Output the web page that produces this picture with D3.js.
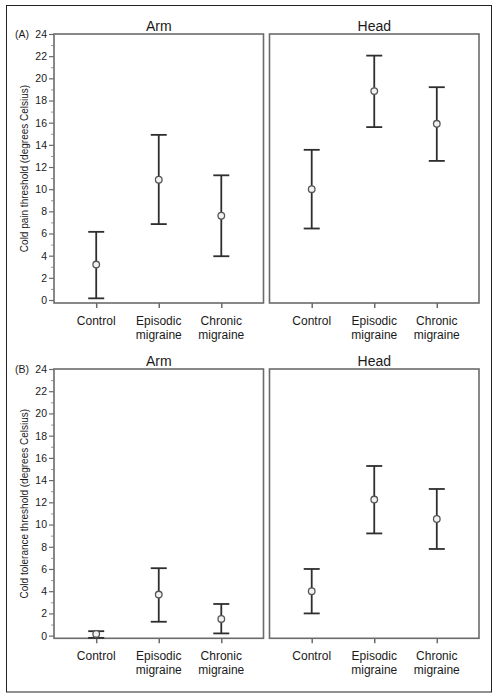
<!DOCTYPE html>
<html><head><meta charset="utf-8">
<script src="https://cdn.jsdelivr.net/npm/d3@7"></script>
<style>body{margin:0;background:#fff}svg{display:block;font-family:"Liberation Sans",Arial,sans-serif}</style>
</head><body>
<script>
const categories = ["Control", "Episodic migraine", "Chronic migraine"];
const categoryLines = [["Control"], ["Episodic", "migraine"], ["Chronic", "migraine"]];
const regions = ["Arm", "Head"];
const yTicks = [0, 2, 4, 6, 8, 10, 12, 14, 16, 18, 20, 22, 24];
const yMinorTicks = [1, 3, 5, 7, 9, 11, 13, 15, 17, 19, 21, 23];

// Panel A: cold pain threshold
const painArmMean  = [3.2, 10.85, 7.6];
const painArmLow   = [0.15, 6.85, 3.95];
const painArmHigh  = [6.15, 14.9, 11.25];
const painHeadMean = [10.0, 18.85, 15.9];
const painHeadLow  = [6.45, 15.6, 12.55];
const painHeadHigh = [13.55, 22.05, 19.2];

// Panel B: cold tolerance threshold
const tolArmMean  = [0.15, 3.7, 1.5];
const tolArmLow   = [-0.2, 1.25, 0.2];
const tolArmHigh  = [0.4, 6.07, 2.85];
const tolHeadMean = [4.0, 12.25, 10.5];
const tolHeadLow  = [2.0, 9.2, 7.8];
const tolHeadHigh = [6.0, 15.27, 13.2];

const W = 499, H = 699;
const svg = d3.select("body").append("svg").attr("width", W).attr("height", H);

svg.append("rect").attr("x", 6.5).attr("y", 5.5).attr("width", 485).attr("height", 686.5)
  .attr("fill", "none").attr("stroke", "#222").attr("stroke-width", 1);

const rows = [
  { label: "(A)", title: "Cold pain threshold (degrees Celsius)", top: 34, bottom: 303, yMin: -0.27,
    data: [[painArmMean, painArmLow, painArmHigh], [painHeadMean, painHeadLow, painHeadHigh]] },
  { label: "(B)", title: "Cold tolerance threshold (degrees Celsius)", top: 369, bottom: 638.3, yMin: -0.24,
    data: [[tolArmMean, tolArmLow, tolArmHigh], [tolHeadMean, tolHeadLow, tolHeadHigh]] }
];
const panelsX = [[54, 263.5], [269.5, 479]];
const ink = "#2e2e2e", frame = "#6b6b6b";

rows.forEach(row => {
  const y = d3.scaleLinear().domain([row.yMin, 24]).range([row.bottom, row.top]);
  regions.forEach((reg, pi) => {
    const [x0, x1] = panelsX[pi];
    const x = d3.scalePoint().domain(categories).range([x0, x1]).padding(0.675);
    const g = svg.append("g");
    // title
    g.append("text").attr("x", (x0 + x1) / 2).attr("y", row.top - 3).attr("text-anchor", "middle")
      .attr("font-size", 14).attr("fill", "#1a1a1a").text(reg);
    // x ticks
    const xa = g.append("g").attr("transform", `translate(0,${row.bottom})`)
      .call(d3.axisBottom(x).tickSize(5).tickFormat(""));
    xa.select(".domain").remove();
    xa.selectAll("line").attr("stroke", frame).attr("stroke-width", 1.5);
    categories.forEach((c, i) => {
      const t = g.append("text").attr("x", x(c)).attr("y", row.bottom + 22).attr("text-anchor", "middle")
        .attr("font-size", 12).attr("fill", "#1a1a1a");
      categoryLines[i].forEach((ln, k) => t.append("tspan").attr("x", x(c)).attr("dy", k ? 14 : 0).text(ln));
    });
    if (pi === 0) {
      const ya = g.append("g").attr("transform", `translate(${x0},0)`)
        .call(d3.axisLeft(y).tickValues(yTicks).tickSize(5).tickPadding(2));
      ya.select(".domain").remove();
      ya.selectAll("line").attr("stroke", frame).attr("stroke-width", 1.2);
      ya.selectAll("text").attr("font-size", 10.5).attr("fill", "#1a1a1a").attr("font-family", "Liberation Sans, Arial, sans-serif");
      const ym = g.append("g").attr("transform", `translate(${x0},0)`)
        .call(d3.axisLeft(y).tickValues(yMinorTicks).tickSize(3).tickFormat(""));
      ym.select(".domain").remove();
      ym.selectAll("line").attr("stroke", "#999").attr("stroke-width", 1);
      g.append("text").attr("x", 15).attr("y", y(24) + 3.8).attr("font-size", 10.5).attr("fill", "#1a1a1a").text(row.label);
      g.append("text").attr("transform", `translate(27.5,${(row.top + row.bottom) / 2}) rotate(-90)`)
        .attr("text-anchor", "middle").attr("font-size", 10).attr("fill", "#1a1a1a").text(row.title);
    }
    // frame
    g.append("rect").attr("x", x0).attr("y", row.top).attr("width", x1 - x0).attr("height", row.bottom - row.top)
      .attr("fill", "none").attr("stroke", frame).attr("stroke-width", 1.6);
    // error bars
    const [mean, low, high] = row.data[pi];
    const capW = 8;
    categories.forEach((c, i) => {
      const cx = x(c);
      g.append("line").attr("x1", cx).attr("x2", cx).attr("y1", y(low[i])).attr("y2", y(high[i]))
        .attr("stroke", ink).attr("stroke-width", 1.8);
      [low[i], high[i]].forEach(v => g.append("line").attr("x1", cx - capW).attr("x2", cx + capW)
        .attr("y1", y(v)).attr("y2", y(v)).attr("stroke", ink).attr("stroke-width", 1.8));
      g.append("circle").attr("cx", cx).attr("cy", y(mean[i])).attr("r", 3.3)
        .attr("fill", "#f2f2f2").attr("stroke", "#555").attr("stroke-width", 1.3);
    });
  });
});
</script>
</body></html>
